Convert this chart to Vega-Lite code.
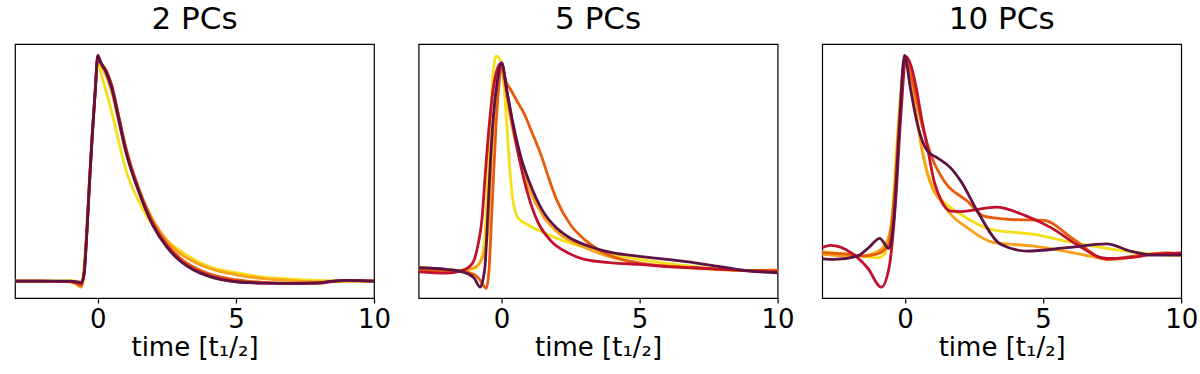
{
"$schema": "https://vega.github.io/schema/vega-lite/v6.json",
"padding": {"left": 14, "top": 3, "right": 5, "bottom": 5},
"bounds": "flush",
"spacing": 44.6,
"config": {
  "font": "DejaVu Sans",
  "view": {"stroke": "#000000", "strokeWidth": 1.2},
  "title": {"fontSize": 31, "fontWeight": "normal", "color": "#000000", "font": "DejaVu Sans", "baseline": "alphabetic", "offset": 8},
  "axis": {"labelFontSize": 26, "titleFontSize": 26, "titleFontWeight": "normal", "labelColor": "#000000", "titleColor": "#000000", "tickColor": "#000000", "tickSize": 5, "tickWidth": 1.2, "domain": false, "grid": false, "labelPadding": 3, "titlePadding": 2, "labelFlush": false, "labelFont": "DejaVu Sans", "titleFont": "DejaVu Sans"}
},
"data": {"values": [
{"p":"2 PCs","s":"a","t":-3,"f":0},{"p":"2 PCs","s":"a","t":-2,"f":0},{"p":"2 PCs","s":"a","t":-1,"f":0.002},{"p":"2 PCs","s":"a","t":-0.8,"f":0},{"p":"2 PCs","s":"a","t":-0.6,"f":-0.01},{"p":"2 PCs","s":"a","t":-0.5,"f":0.06},{"p":"2 PCs","s":"a","t":-0.4,"f":0.25},{"p":"2 PCs","s":"a","t":-0.3,"f":0.47},{"p":"2 PCs","s":"a","t":-0.2,"f":0.67},{"p":"2 PCs","s":"a","t":-0.1,"f":0.84},{"p":"2 PCs","s":"a","t":0,"f":0.975},{"p":"2 PCs","s":"a","t":0.12,"f":0.916},{"p":"2 PCs","s":"a","t":0.3,"f":0.84},{"p":"2 PCs","s":"a","t":0.5,"f":0.75},{"p":"2 PCs","s":"a","t":0.84,"f":0.576},{"p":"2 PCs","s":"a","t":1,"f":0.5},{"p":"2 PCs","s":"a","t":1.5,"f":0.35},{"p":"2 PCs","s":"a","t":2,"f":0.245},{"p":"2 PCs","s":"a","t":2.5,"f":0.18},{"p":"2 PCs","s":"a","t":3,"f":0.133},{"p":"2 PCs","s":"a","t":3.5,"f":0.095},{"p":"2 PCs","s":"a","t":4,"f":0.066},{"p":"2 PCs","s":"a","t":5,"f":0.037},{"p":"2 PCs","s":"a","t":6,"f":0.018},{"p":"2 PCs","s":"a","t":7,"f":0.009},{"p":"2 PCs","s":"a","t":8,"f":0.003},{"p":"2 PCs","s":"a","t":9,"f":0},{"p":"2 PCs","s":"a","t":10,"f":0},
{"p":"2 PCs","s":"b","t":-3,"f":0},{"p":"2 PCs","s":"b","t":-2,"f":0},{"p":"2 PCs","s":"b","t":-1,"f":-0.003},{"p":"2 PCs","s":"b","t":-0.8,"f":-0.012},{"p":"2 PCs","s":"b","t":-0.6,"f":-0.027},{"p":"2 PCs","s":"b","t":-0.5,"f":0.04},{"p":"2 PCs","s":"b","t":-0.4,"f":0.22},{"p":"2 PCs","s":"b","t":-0.3,"f":0.45},{"p":"2 PCs","s":"b","t":-0.2,"f":0.66},{"p":"2 PCs","s":"b","t":-0.1,"f":0.84},{"p":"2 PCs","s":"b","t":0,"f":0.99},{"p":"2 PCs","s":"b","t":0.1,"f":0.965},{"p":"2 PCs","s":"b","t":0.3,"f":0.91},{"p":"2 PCs","s":"b","t":0.5,"f":0.84},{"p":"2 PCs","s":"b","t":0.75,"f":0.71},{"p":"2 PCs","s":"b","t":1,"f":0.58},{"p":"2 PCs","s":"b","t":1.5,"f":0.4},{"p":"2 PCs","s":"b","t":2,"f":0.27},{"p":"2 PCs","s":"b","t":2.5,"f":0.18},{"p":"2 PCs","s":"b","t":3,"f":0.12},{"p":"2 PCs","s":"b","t":3.5,"f":0.085},{"p":"2 PCs","s":"b","t":4,"f":0.058},{"p":"2 PCs","s":"b","t":5,"f":0.028},{"p":"2 PCs","s":"b","t":6,"f":0.011},{"p":"2 PCs","s":"b","t":7,"f":0.002},{"p":"2 PCs","s":"b","t":8,"f":-0.003},{"p":"2 PCs","s":"b","t":9,"f":0},{"p":"2 PCs","s":"b","t":10,"f":0},
{"p":"2 PCs","s":"c","t":-3,"f":0},{"p":"2 PCs","s":"c","t":-2,"f":0},{"p":"2 PCs","s":"c","t":-1,"f":-0.002},{"p":"2 PCs","s":"c","t":-0.8,"f":-0.008},{"p":"2 PCs","s":"c","t":-0.6,"f":-0.02},{"p":"2 PCs","s":"c","t":-0.5,"f":0.035},{"p":"2 PCs","s":"c","t":-0.4,"f":0.215},{"p":"2 PCs","s":"c","t":-0.3,"f":0.445},{"p":"2 PCs","s":"c","t":-0.2,"f":0.655},{"p":"2 PCs","s":"c","t":-0.1,"f":0.835},{"p":"2 PCs","s":"c","t":0,"f":0.995},{"p":"2 PCs","s":"c","t":0.1,"f":0.97},{"p":"2 PCs","s":"c","t":0.3,"f":0.935},{"p":"2 PCs","s":"c","t":0.5,"f":0.87},{"p":"2 PCs","s":"c","t":0.75,"f":0.735},{"p":"2 PCs","s":"c","t":1,"f":0.6},{"p":"2 PCs","s":"c","t":1.5,"f":0.405},{"p":"2 PCs","s":"c","t":2,"f":0.26},{"p":"2 PCs","s":"c","t":2.5,"f":0.165},{"p":"2 PCs","s":"c","t":3,"f":0.1},{"p":"2 PCs","s":"c","t":3.5,"f":0.06},{"p":"2 PCs","s":"c","t":4,"f":0.033},{"p":"2 PCs","s":"c","t":5,"f":0.006},{"p":"2 PCs","s":"c","t":6,"f":-0.006},{"p":"2 PCs","s":"c","t":7,"f":-0.01},{"p":"2 PCs","s":"c","t":8,"f":-0.009},{"p":"2 PCs","s":"c","t":8.5,"f":-0.002},{"p":"2 PCs","s":"c","t":9,"f":0.002},{"p":"2 PCs","s":"c","t":10,"f":0},
{"p":"2 PCs","s":"d","t":-3,"f":0},{"p":"2 PCs","s":"d","t":-2,"f":0},{"p":"2 PCs","s":"d","t":-1,"f":-0.002},{"p":"2 PCs","s":"d","t":-0.8,"f":-0.006},{"p":"2 PCs","s":"d","t":-0.6,"f":-0.012},{"p":"2 PCs","s":"d","t":-0.5,"f":0.03},{"p":"2 PCs","s":"d","t":-0.4,"f":0.21},{"p":"2 PCs","s":"d","t":-0.3,"f":0.44},{"p":"2 PCs","s":"d","t":-0.2,"f":0.65},{"p":"2 PCs","s":"d","t":-0.1,"f":0.83},{"p":"2 PCs","s":"d","t":0,"f":0.998},{"p":"2 PCs","s":"d","t":0.1,"f":0.97},{"p":"2 PCs","s":"d","t":0.3,"f":0.93},{"p":"2 PCs","s":"d","t":0.5,"f":0.865},{"p":"2 PCs","s":"d","t":0.75,"f":0.73},{"p":"2 PCs","s":"d","t":1,"f":0.59},{"p":"2 PCs","s":"d","t":1.5,"f":0.395},{"p":"2 PCs","s":"d","t":2,"f":0.25},{"p":"2 PCs","s":"d","t":2.5,"f":0.155},{"p":"2 PCs","s":"d","t":3,"f":0.09},{"p":"2 PCs","s":"d","t":3.5,"f":0.05},{"p":"2 PCs","s":"d","t":4,"f":0.025},{"p":"2 PCs","s":"d","t":5,"f":-0.002},{"p":"2 PCs","s":"d","t":6,"f":-0.009},{"p":"2 PCs","s":"d","t":7,"f":-0.011},{"p":"2 PCs","s":"d","t":8,"f":-0.009},{"p":"2 PCs","s":"d","t":8.5,"f":-0.001},{"p":"2 PCs","s":"d","t":9,"f":0.003},{"p":"2 PCs","s":"d","t":10,"f":0},
{"p":"2 PCs","s":"e","t":-3,"f":0},{"p":"2 PCs","s":"e","t":-2,"f":0},{"p":"2 PCs","s":"e","t":-1,"f":0},{"p":"2 PCs","s":"e","t":-0.8,"f":-0.002},{"p":"2 PCs","s":"e","t":-0.6,"f":-0.006},{"p":"2 PCs","s":"e","t":-0.5,"f":0.03},{"p":"2 PCs","s":"e","t":-0.4,"f":0.21},{"p":"2 PCs","s":"e","t":-0.3,"f":0.44},{"p":"2 PCs","s":"e","t":-0.2,"f":0.65},{"p":"2 PCs","s":"e","t":-0.1,"f":0.83},{"p":"2 PCs","s":"e","t":0,"f":1.0},{"p":"2 PCs","s":"e","t":0.1,"f":0.97},{"p":"2 PCs","s":"e","t":0.3,"f":0.925},{"p":"2 PCs","s":"e","t":0.5,"f":0.855},{"p":"2 PCs","s":"e","t":0.75,"f":0.72},{"p":"2 PCs","s":"e","t":1,"f":0.58},{"p":"2 PCs","s":"e","t":1.5,"f":0.39},{"p":"2 PCs","s":"e","t":2,"f":0.245},{"p":"2 PCs","s":"e","t":2.5,"f":0.15},{"p":"2 PCs","s":"e","t":3,"f":0.087},{"p":"2 PCs","s":"e","t":3.5,"f":0.047},{"p":"2 PCs","s":"e","t":4,"f":0.022},{"p":"2 PCs","s":"e","t":5,"f":-0.003},{"p":"2 PCs","s":"e","t":6,"f":-0.009},{"p":"2 PCs","s":"e","t":7,"f":-0.01},{"p":"2 PCs","s":"e","t":8,"f":-0.008},{"p":"2 PCs","s":"e","t":8.5,"f":0},{"p":"2 PCs","s":"e","t":9,"f":0.003},{"p":"2 PCs","s":"e","t":10,"f":0},

{"p":"5 PCs","s":"a","t":-3,"f":0.062},{"p":"5 PCs","s":"a","t":-2,"f":0.052},{"p":"5 PCs","s":"a","t":-1.5,"f":0.047},{"p":"5 PCs","s":"a","t":-1,"f":0.055},{"p":"5 PCs","s":"a","t":-0.8,"f":0.075},{"p":"5 PCs","s":"a","t":-0.6,"f":0.2},{"p":"5 PCs","s":"a","t":-0.5,"f":0.45},{"p":"5 PCs","s":"a","t":-0.4,"f":0.72},{"p":"5 PCs","s":"a","t":-0.3,"f":0.92},{"p":"5 PCs","s":"a","t":-0.2,"f":0.997},{"p":"5 PCs","s":"a","t":-0.1,"f":0.99},{"p":"5 PCs","s":"a","t":0,"f":0.967},{"p":"5 PCs","s":"a","t":0.1,"f":0.857},{"p":"5 PCs","s":"a","t":0.2,"f":0.68},{"p":"5 PCs","s":"a","t":0.3,"f":0.5},{"p":"5 PCs","s":"a","t":0.4,"f":0.37},{"p":"5 PCs","s":"a","t":0.6,"f":0.28},{"p":"5 PCs","s":"a","t":0.95,"f":0.25},{"p":"5 PCs","s":"a","t":1.55,"f":0.214},{"p":"5 PCs","s":"a","t":2,"f":0.19},{"p":"5 PCs","s":"a","t":3,"f":0.15},{"p":"5 PCs","s":"a","t":4,"f":0.118},{"p":"5 PCs","s":"a","t":5,"f":0.096},{"p":"5 PCs","s":"a","t":6,"f":0.078},{"p":"5 PCs","s":"a","t":7,"f":0.064},{"p":"5 PCs","s":"a","t":8,"f":0.052},{"p":"5 PCs","s":"a","t":9,"f":0.045},{"p":"5 PCs","s":"a","t":10,"f":0.041},
{"p":"5 PCs","s":"b","t":-3,"f":0.055},{"p":"5 PCs","s":"b","t":-2,"f":0.05},{"p":"5 PCs","s":"b","t":-1.5,"f":0.047},{"p":"5 PCs","s":"b","t":-1,"f":0.059},{"p":"5 PCs","s":"b","t":-0.7,"f":0.1},{"p":"5 PCs","s":"b","t":-0.5,"f":0.207},{"p":"5 PCs","s":"b","t":-0.35,"f":0.576},{"p":"5 PCs","s":"b","t":-0.2,"f":0.827},{"p":"5 PCs","s":"b","t":-0.05,"f":0.953},{"p":"5 PCs","s":"b","t":0.1,"f":0.886},{"p":"5 PCs","s":"b","t":0.3,"f":0.74},{"p":"5 PCs","s":"b","t":0.5,"f":0.62},{"p":"5 PCs","s":"b","t":0.8,"f":0.48},{"p":"5 PCs","s":"b","t":1,"f":0.41},{"p":"5 PCs","s":"b","t":1.5,"f":0.29},{"p":"5 PCs","s":"b","t":2,"f":0.22},{"p":"5 PCs","s":"b","t":3,"f":0.15},{"p":"5 PCs","s":"b","t":4,"f":0.105},{"p":"5 PCs","s":"b","t":5,"f":0.08},{"p":"5 PCs","s":"b","t":6,"f":0.065},{"p":"5 PCs","s":"b","t":7,"f":0.056},{"p":"5 PCs","s":"b","t":8,"f":0.05},{"p":"5 PCs","s":"b","t":9,"f":0.047},{"p":"5 PCs","s":"b","t":10,"f":0.05},
{"p":"5 PCs","s":"c","t":-3,"f":0.047},{"p":"5 PCs","s":"c","t":-2,"f":0.045},{"p":"5 PCs","s":"c","t":-1.5,"f":0.044},{"p":"5 PCs","s":"c","t":-1,"f":0.03},{"p":"5 PCs","s":"c","t":-0.8,"f":0.008},{"p":"5 PCs","s":"c","t":-0.55,"f":-0.032},{"p":"5 PCs","s":"c","t":-0.45,"f":0.05},{"p":"5 PCs","s":"c","t":-0.35,"f":0.3},{"p":"5 PCs","s":"c","t":-0.2,"f":0.68},{"p":"5 PCs","s":"c","t":-0.1,"f":0.857},{"p":"5 PCs","s":"c","t":0.02,"f":0.955},{"p":"5 PCs","s":"c","t":0.15,"f":0.89},{"p":"5 PCs","s":"c","t":0.35,"f":0.845},{"p":"5 PCs","s":"c","t":0.6,"f":0.79},{"p":"5 PCs","s":"c","t":0.83,"f":0.74},{"p":"5 PCs","s":"c","t":1.1,"f":0.66},{"p":"5 PCs","s":"c","t":1.43,"f":0.56},{"p":"5 PCs","s":"c","t":1.73,"f":0.45},{"p":"5 PCs","s":"c","t":2,"f":0.36},{"p":"5 PCs","s":"c","t":2.5,"f":0.25},{"p":"5 PCs","s":"c","t":3,"f":0.185},{"p":"5 PCs","s":"c","t":3.5,"f":0.14},{"p":"5 PCs","s":"c","t":4,"f":0.11},{"p":"5 PCs","s":"c","t":5,"f":0.08},{"p":"5 PCs","s":"c","t":6,"f":0.066},{"p":"5 PCs","s":"c","t":7,"f":0.059},{"p":"5 PCs","s":"c","t":8,"f":0.052},{"p":"5 PCs","s":"c","t":9,"f":0.047},{"p":"5 PCs","s":"c","t":10,"f":0.047},
{"p":"5 PCs","s":"d","t":-3,"f":0.041},{"p":"5 PCs","s":"d","t":-2,"f":0.035},{"p":"5 PCs","s":"d","t":-1.5,"f":0.044},{"p":"5 PCs","s":"d","t":-1.2,"f":0.06},{"p":"5 PCs","s":"d","t":-1,"f":0.09},{"p":"5 PCs","s":"d","t":-0.85,"f":0.16},{"p":"5 PCs","s":"d","t":-0.7,"f":0.28},{"p":"5 PCs","s":"d","t":-0.6,"f":0.45},{"p":"5 PCs","s":"d","t":-0.45,"f":0.68},{"p":"5 PCs","s":"d","t":-0.3,"f":0.85},{"p":"5 PCs","s":"d","t":-0.15,"f":0.94},{"p":"5 PCs","s":"d","t":0,"f":0.967},{"p":"5 PCs","s":"d","t":0.2,"f":0.84},{"p":"5 PCs","s":"d","t":0.4,"f":0.7},{"p":"5 PCs","s":"d","t":0.6,"f":0.57},{"p":"5 PCs","s":"d","t":0.9,"f":0.41},{"p":"5 PCs","s":"d","t":1.2,"f":0.295},{"p":"5 PCs","s":"d","t":1.8,"f":0.177},{"p":"5 PCs","s":"d","t":2.4,"f":0.126},{"p":"5 PCs","s":"d","t":3,"f":0.096},{"p":"5 PCs","s":"d","t":4,"f":0.081},{"p":"5 PCs","s":"d","t":5,"f":0.074},{"p":"5 PCs","s":"d","t":6,"f":0.064},{"p":"5 PCs","s":"d","t":7,"f":0.059},{"p":"5 PCs","s":"d","t":8,"f":0.052},{"p":"5 PCs","s":"d","t":9,"f":0.045},{"p":"5 PCs","s":"d","t":10,"f":0.041},
{"p":"5 PCs","s":"e","t":-3,"f":0.059},{"p":"5 PCs","s":"e","t":-2,"f":0.052},{"p":"5 PCs","s":"e","t":-1.5,"f":0.044},{"p":"5 PCs","s":"e","t":-1,"f":0.015},{"p":"5 PCs","s":"e","t":-0.77,"f":-0.027},{"p":"5 PCs","s":"e","t":-0.6,"f":0.06},{"p":"5 PCs","s":"e","t":-0.5,"f":0.28},{"p":"5 PCs","s":"e","t":-0.4,"f":0.53},{"p":"5 PCs","s":"e","t":-0.3,"f":0.72},{"p":"5 PCs","s":"e","t":-0.15,"f":0.886},{"p":"5 PCs","s":"e","t":0.01,"f":0.967},{"p":"5 PCs","s":"e","t":0.2,"f":0.84},{"p":"5 PCs","s":"e","t":0.4,"f":0.71},{"p":"5 PCs","s":"e","t":0.6,"f":0.6},{"p":"5 PCs","s":"e","t":0.8,"f":0.51},{"p":"5 PCs","s":"e","t":1,"f":0.443},{"p":"5 PCs","s":"e","t":1.5,"f":0.31},{"p":"5 PCs","s":"e","t":2,"f":0.235},{"p":"5 PCs","s":"e","t":2.5,"f":0.19},{"p":"5 PCs","s":"e","t":3,"f":0.162},{"p":"5 PCs","s":"e","t":4,"f":0.126},{"p":"5 PCs","s":"e","t":5,"f":0.11},{"p":"5 PCs","s":"e","t":6,"f":0.096},{"p":"5 PCs","s":"e","t":7,"f":0.081},{"p":"5 PCs","s":"e","t":7.8,"f":0.066},{"p":"5 PCs","s":"e","t":8.5,"f":0.052},{"p":"5 PCs","s":"e","t":9,"f":0.044},{"p":"5 PCs","s":"e","t":10,"f":0.037},

{"p":"10 PCs","s":"a","t":-3,"f":0.13},{"p":"10 PCs","s":"a","t":-2,"f":0.118},{"p":"10 PCs","s":"a","t":-1.5,"f":0.11},{"p":"10 PCs","s":"a","t":-1,"f":0.103},{"p":"10 PCs","s":"a","t":-0.75,"f":0.12},{"p":"10 PCs","s":"a","t":-0.5,"f":0.24},{"p":"10 PCs","s":"a","t":-0.3,"f":0.6},{"p":"10 PCs","s":"a","t":-0.15,"f":0.84},{"p":"10 PCs","s":"a","t":0,"f":0.975},{"p":"10 PCs","s":"a","t":0.2,"f":0.9},{"p":"10 PCs","s":"a","t":0.4,"f":0.75},{"p":"10 PCs","s":"a","t":0.6,"f":0.6},{"p":"10 PCs","s":"a","t":0.8,"f":0.49},{"p":"10 PCs","s":"a","t":1.17,"f":0.384},{"p":"10 PCs","s":"a","t":1.5,"f":0.34},{"p":"10 PCs","s":"a","t":2.02,"f":0.295},{"p":"10 PCs","s":"a","t":3.11,"f":0.229},{"p":"10 PCs","s":"a","t":4.67,"f":0.207},{"p":"10 PCs","s":"a","t":6.11,"f":0.17},{"p":"10 PCs","s":"a","t":7.55,"f":0.14},{"p":"10 PCs","s":"a","t":9,"f":0.118},{"p":"10 PCs","s":"a","t":10,"f":0.113},
{"p":"10 PCs","s":"b","t":-3,"f":0.118},{"p":"10 PCs","s":"b","t":-2,"f":0.11},{"p":"10 PCs","s":"b","t":-1.5,"f":0.113},{"p":"10 PCs","s":"b","t":-1,"f":0.13},{"p":"10 PCs","s":"b","t":-0.7,"f":0.165},{"p":"10 PCs","s":"b","t":-0.5,"f":0.25},{"p":"10 PCs","s":"b","t":-0.35,"f":0.45},{"p":"10 PCs","s":"b","t":-0.2,"f":0.75},{"p":"10 PCs","s":"b","t":0,"f":0.985},{"p":"10 PCs","s":"b","t":0.2,"f":0.9},{"p":"10 PCs","s":"b","t":0.4,"f":0.74},{"p":"10 PCs","s":"b","t":0.6,"f":0.59},{"p":"10 PCs","s":"b","t":0.8,"f":0.48},{"p":"10 PCs","s":"b","t":1,"f":0.41},{"p":"10 PCs","s":"b","t":1.3,"f":0.354},{"p":"10 PCs","s":"b","t":1.7,"f":0.29},{"p":"10 PCs","s":"b","t":2.26,"f":0.236},{"p":"10 PCs","s":"b","t":3.23,"f":0.17},{"p":"10 PCs","s":"b","t":4.67,"f":0.155},{"p":"10 PCs","s":"b","t":6.11,"f":0.125},{"p":"10 PCs","s":"b","t":7.55,"f":0.096},{"p":"10 PCs","s":"b","t":8.5,"f":0.111},{"p":"10 PCs","s":"b","t":9.48,"f":0.125},{"p":"10 PCs","s":"b","t":10,"f":0.118},
{"p":"10 PCs","s":"c","t":-3,"f":0.126},{"p":"10 PCs","s":"c","t":-2,"f":0.118},{"p":"10 PCs","s":"c","t":-1.5,"f":0.111},{"p":"10 PCs","s":"c","t":-1,"f":0.12},{"p":"10 PCs","s":"c","t":-0.6,"f":0.162},{"p":"10 PCs","s":"c","t":-0.4,"f":0.355},{"p":"10 PCs","s":"c","t":-0.2,"f":0.72},{"p":"10 PCs","s":"c","t":0,"f":0.98},{"p":"10 PCs","s":"c","t":0.3,"f":0.87},{"p":"10 PCs","s":"c","t":0.6,"f":0.7},{"p":"10 PCs","s":"c","t":1,"f":0.54},{"p":"10 PCs","s":"c","t":1.42,"f":0.443},{"p":"10 PCs","s":"c","t":2.26,"f":0.354},{"p":"10 PCs","s":"c","t":2.86,"f":0.288},{"p":"10 PCs","s":"c","t":3.83,"f":0.273},{"p":"10 PCs","s":"c","t":5.03,"f":0.269},{"p":"10 PCs","s":"c","t":6.11,"f":0.185},{"p":"10 PCs","s":"c","t":7.31,"f":0.096},{"p":"10 PCs","s":"c","t":8.28,"f":0.111},{"p":"10 PCs","s":"c","t":9.48,"f":0.125},{"p":"10 PCs","s":"c","t":10,"f":0.12},
{"p":"10 PCs","s":"d","t":-3,"f":0.148},{"p":"10 PCs","s":"d","t":-2.69,"f":0.158},{"p":"10 PCs","s":"d","t":-1.96,"f":0.126},{"p":"10 PCs","s":"d","t":-1.36,"f":0.059},{"p":"10 PCs","s":"d","t":-0.86,"f":-0.027},{"p":"10 PCs","s":"d","t":-0.58,"f":0.059},{"p":"10 PCs","s":"d","t":-0.34,"f":0.355},{"p":"10 PCs","s":"d","t":-0.16,"f":0.72},{"p":"10 PCs","s":"d","t":0.05,"f":0.995},{"p":"10 PCs","s":"d","t":0.2,"f":0.96},{"p":"10 PCs","s":"d","t":0.4,"f":0.86},{"p":"10 PCs","s":"d","t":0.6,"f":0.72},{"p":"10 PCs","s":"d","t":0.8,"f":0.6},{"p":"10 PCs","s":"d","t":1.05,"f":0.443},{"p":"10 PCs","s":"d","t":1.3,"f":0.36},{"p":"10 PCs","s":"d","t":1.65,"f":0.31},{"p":"10 PCs","s":"d","t":2,"f":0.308},{"p":"10 PCs","s":"d","t":2.4,"f":0.313},{"p":"10 PCs","s":"d","t":3.3,"f":0.328},{"p":"10 PCs","s":"d","t":4.4,"f":0.288},{"p":"10 PCs","s":"d","t":5.3,"f":0.236},{"p":"10 PCs","s":"d","t":6.2,"f":0.163},{"p":"10 PCs","s":"d","t":7.3,"f":0.1},{"p":"10 PCs","s":"d","t":8,"f":0.103},{"p":"10 PCs","s":"d","t":9,"f":0.118},{"p":"10 PCs","s":"d","t":10,"f":0.125},
{"p":"10 PCs","s":"e","t":-3,"f":0.1},{"p":"10 PCs","s":"e","t":-2.57,"f":0.096},{"p":"10 PCs","s":"e","t":-1.72,"f":0.111},{"p":"10 PCs","s":"e","t":-1.3,"f":0.15},{"p":"10 PCs","s":"e","t":-0.92,"f":0.189},{"p":"10 PCs","s":"e","t":-0.58,"f":0.145},{"p":"10 PCs","s":"e","t":-0.4,"f":0.28},{"p":"10 PCs","s":"e","t":-0.22,"f":0.65},{"p":"10 PCs","s":"e","t":-0.02,"f":1.0},{"p":"10 PCs","s":"e","t":0.2,"f":0.85},{"p":"10 PCs","s":"e","t":0.45,"f":0.694},{"p":"10 PCs","s":"e","t":0.81,"f":0.576},{"p":"10 PCs","s":"e","t":1.17,"f":0.546},{"p":"10 PCs","s":"e","t":1.65,"f":0.502},{"p":"10 PCs","s":"e","t":2.02,"f":0.443},{"p":"10 PCs","s":"e","t":2.62,"f":0.31},{"p":"10 PCs","s":"e","t":3.46,"f":0.163},{"p":"10 PCs","s":"e","t":4.42,"f":0.133},{"p":"10 PCs","s":"e","t":5.87,"f":0.148},{"p":"10 PCs","s":"e","t":7.31,"f":0.165},{"p":"10 PCs","s":"e","t":8.15,"f":0.133},{"p":"10 PCs","s":"e","t":9,"f":0.115},{"p":"10 PCs","s":"e","t":10,"f":0.115}
]},
"hconcat": [
{"title": "2 PCs", "width": 359, "height": 254,
 "transform": [{"filter": "datum.p === '2 PCs'"}],
 "mark": {"type": "line", "strokeWidth": 2.8, "interpolate": "monotone", "clip": true},
 "encoding": {
  "x": {"field": "t", "type": "quantitative", "scale": {"domain": [-3, 10], "nice": false, "zero": false}, "axis": {"values": [0, 5, 10], "title": "time [t₁/₂]"}},
  "y": {"field": "f", "type": "quantitative", "scale": {"domain": [-0.075, 1.051], "nice": false, "zero": false}, "axis": null},
  "color": {"field": "s", "type": "nominal", "scale": {"domain": ["a","b","c","d","e"], "range": ["#f5df1a","#f9a11b","#e65c0c","#c3102c","#5e1244"]}, "legend": null}
 }},
{"title": "5 PCs", "width": 359, "height": 254,
 "transform": [{"filter": "datum.p === '5 PCs'"}],
 "mark": {"type": "line", "strokeWidth": 2.8, "interpolate": "monotone", "clip": true},
 "encoding": {
  "x": {"field": "t", "type": "quantitative", "scale": {"domain": [-3, 10], "nice": false, "zero": false}, "axis": {"values": [0, 5, 10], "title": "time [t₁/₂]"}},
  "y": {"field": "f", "type": "quantitative", "scale": {"domain": [-0.075, 1.051], "nice": false, "zero": false}, "axis": null},
  "color": {"field": "s", "type": "nominal", "scale": {"domain": ["a","b","c","d","e"], "range": ["#f5df1a","#f9a11b","#e65c0c","#c3102c","#5e1244"]}, "legend": null}
 }},
{"title": "10 PCs", "width": 359, "height": 254,
 "transform": [{"filter": "datum.p === '10 PCs'"}],
 "mark": {"type": "line", "strokeWidth": 2.8, "interpolate": "monotone", "clip": true},
 "encoding": {
  "x": {"field": "t", "type": "quantitative", "scale": {"domain": [-3, 10], "nice": false, "zero": false}, "axis": {"values": [0, 5, 10], "title": "time [t₁/₂]"}},
  "y": {"field": "f", "type": "quantitative", "scale": {"domain": [-0.075, 1.051], "nice": false, "zero": false}, "axis": null},
  "color": {"field": "s", "type": "nominal", "scale": {"domain": ["a","b","c","d","e"], "range": ["#f5df1a","#f9a11b","#e65c0c","#c3102c","#5e1244"]}, "legend": null}
 }}
]
}
